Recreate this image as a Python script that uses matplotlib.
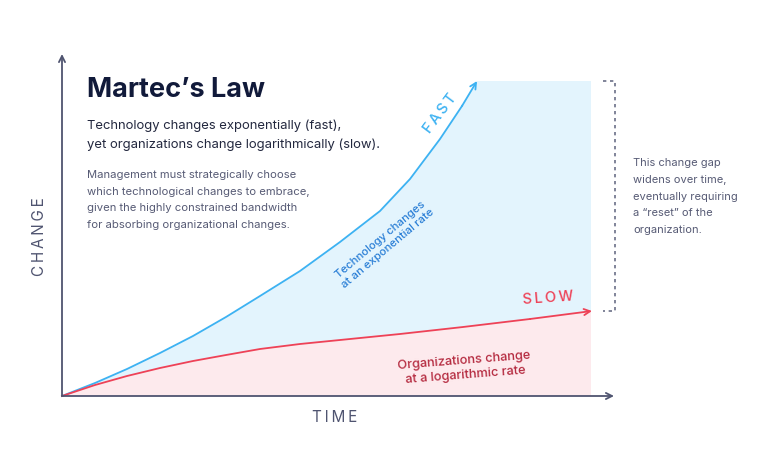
import matplotlib
matplotlib.use('Agg')
import matplotlib.pyplot as plt

# curve values (time, change), origin at the axes corner
tech_time = [0, 33, 65, 98, 131, 164, 198, 238, 278, 318, 348, 378, 400, 415]
tech_change = [0, 13, 27, 43, 60, 79, 100, 125, 154, 185, 217, 257, 290, 315]
org_time = [0, 33, 65, 98, 131, 164, 198, 238, 278, 338, 401, 468, 530]
org_change = [0, 11, 20, 28, 35, 41, 47, 52, 56, 62, 69, 77, 85]

time_max = 529      # right edge of the shaded panel
axis_x_end = 552
axis_y_end = 342

title = "Martec\u2019s Law"
subtitle = ["Technology changes exponentially (fast),",
            "yet organizations change logarithmically (slow)."]
body = ["Management must strategically choose",
        "which technological changes to embrace,",
        "given the highly constrained bandwidth",
        "for absorbing organizational changes."]
side_note = ["This change gap", "widens over time,", "eventually requiring",
             "a \u201creset\u201d of the", "organization."]

BLUE = '#3db2f2'
BLUE_FILL = '#e3f4fd'
BLUE_TXT = '#2b7fd6'
RED = '#ee4257'
RED_FILL = '#fdeaed'
RED_TXT = '#b52b40'
NAVY = '#111a3a'
AXIS = '#4f5470'
GREY = '#575b75'

plt.rcParams['font.family'] = ['Inter', 'DejaVu Sans']


def spaced(word):
    # letter-spaced caps, as in the reference
    return '\u2009'.join(word)


fig = plt.figure(figsize=(7.68, 4.6), dpi=100)
ax = fig.add_axes([0, 0, 1, 1])
ax.set_xlim(-62, 706)
ax.set_ylim(-63, 397)
ax.axis('off')

# shaded regions
ax.fill(org_time[:-1] + [time_max, time_max],
        org_change[:-1] + [org_change[-1], 0], color=RED_FILL, lw=0)
blue_x = tech_time + [time_max, time_max] + org_time[::-1][1:]
blue_y = tech_change + [tech_change[-1], org_change[-1]] + org_change[::-1][1:]
ax.fill(blue_x, blue_y, color=BLUE_FILL, lw=0)

# curves
arrow = dict(arrowstyle='->', lw=1.3, mutation_scale=11, shrinkA=0, shrinkB=0)
ax.plot(tech_time[:-1], tech_change[:-1], color=BLUE, lw=1.3, solid_joinstyle='round')
ax.annotate('', xy=(tech_time[-1], tech_change[-1]), xytext=(tech_time[-2], tech_change[-2]),
            arrowprops=dict(arrow, color=BLUE))
ax.plot(org_time[:-1], org_change[:-1], color=RED, lw=1.3, solid_joinstyle='round')
ax.annotate('', xy=(org_time[-1], org_change[-1]), xytext=(org_time[-2], org_change[-2]),
            arrowprops=dict(arrow, color=RED))

# axes arrows
ax.annotate('', xy=(axis_x_end, 0), xytext=(0, 0), arrowprops=dict(arrow, color=AXIS))
ax.annotate('', xy=(0, axis_y_end), xytext=(0, 0), arrowprops=dict(arrow, color=AXIS))

# dotted bracket for the gap
bx = 553
ax.plot([bx - 12, bx, bx, bx - 12], [tech_change[-1], tech_change[-1], org_change[-1], org_change[-1]],
        color='#6b6f88', lw=1.2, ls=(0, (2, 2.2)))

# labels
ax.text(273, -21, spaced('TIME'), ha='center', va='center', fontsize=11, color=AXIS)
ax.text(-22, 160, spaced('CHANGE'), ha='center', va='center', rotation=90, fontsize=11, color=AXIS)

ax.text(25, 307, title, ha='left', va='center', fontsize=19.5, fontweight='bold', color=NAVY)
for i, line in enumerate(subtitle):
    ax.text(25, 271 - i * 19, line, ha='left', va='center', fontsize=9.4, color='#23283f')
for i, line in enumerate(body):
    ax.text(25, 222 - i * 16.7, line, ha='left', va='center', fontsize=8.1, color=GREY)
for i, line in enumerate(side_note):
    ax.text(571, 234 - i * 16.8, line, ha='left', va='center', fontsize=8.0, color=GREY)

ax.text(378, 283, spaced('FAST'), ha='center', va='center', rotation=53, fontsize=10.5,
        color=BLUE, fontweight='medium')
ax.text(486, 99, spaced('SLOW'), ha='center', va='center', rotation=4, fontsize=10.5,
        color=RED, fontweight='medium')
ax.text(322, 153, 'Technology changes\nat an exponential rate', ha='center', va='center',
        rotation=40, fontsize=8.2, color=BLUE_TXT, linespacing=1.25, fontweight='medium')
ax.text(403, 29, 'Organizations change\nat a logarithmic rate', ha='center', va='center',
        rotation=4.5, fontsize=9.2, color=RED_TXT, linespacing=1.3, fontweight='medium')

fig.savefig('out.png', dpi=100)
